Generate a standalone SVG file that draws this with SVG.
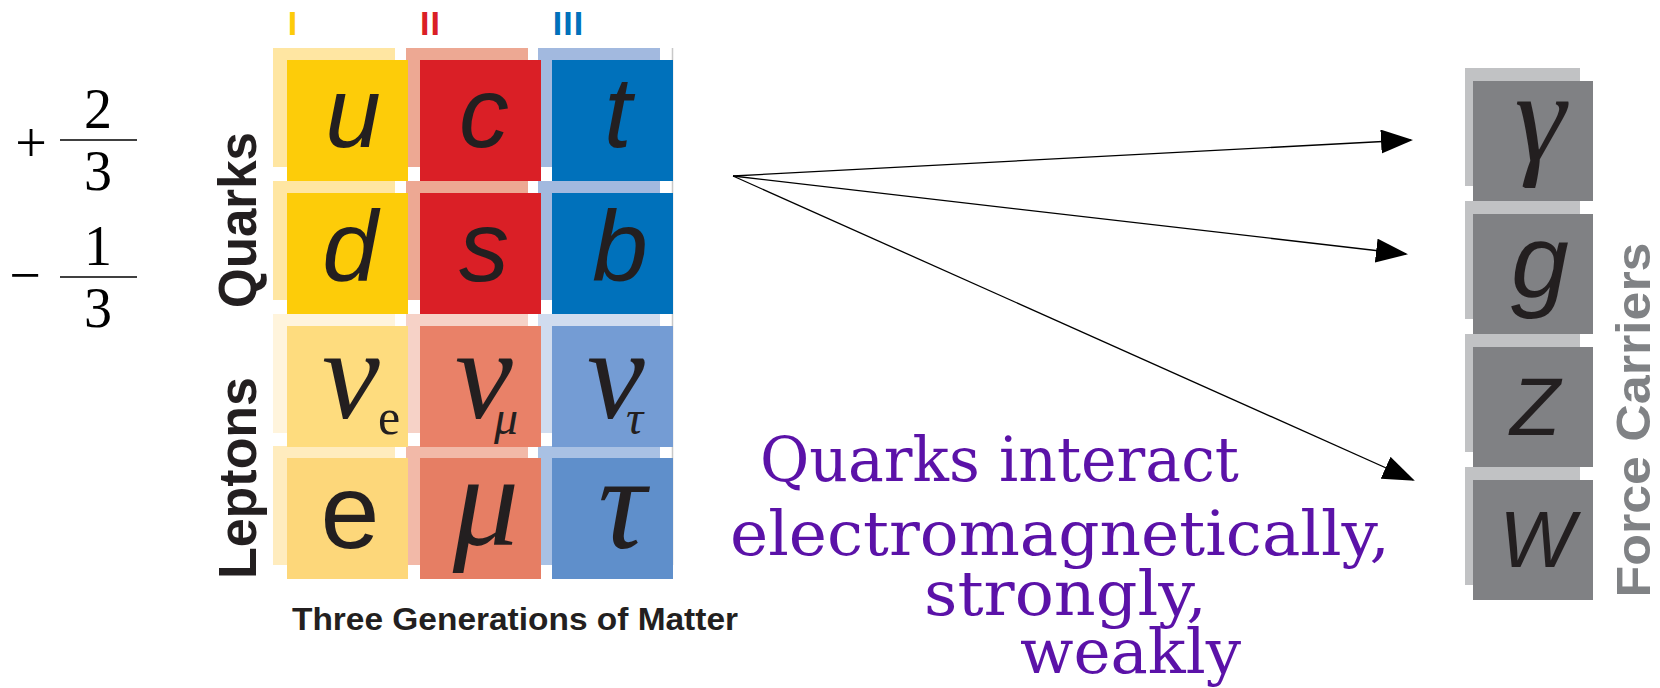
<svg xmlns="http://www.w3.org/2000/svg" width="1660" height="688" viewBox="0 0 1660 688">
<defs>
<style>
.sans{font-family:"Liberation Sans",Arial,sans-serif}
.serif{font-family:"Liberation Serif","Times New Roman",serif}
.lbl{font-family:"Liberation Sans",Arial,sans-serif;font-weight:bold;fill:#231F20}
.sym{font-family:"Liberation Sans",Arial,sans-serif;font-style:italic;fill:#231F20;text-anchor:middle}
.gk{font-family:"Liberation Serif","Times New Roman",serif;font-style:italic;fill:#231F20}
.frac{font-family:"Liberation Serif","Times New Roman",serif;font-size:56px;fill:#000;text-anchor:middle}
.note{font-family:"DejaVu Serif",serif;font-size:62px;fill:#5B12A8}
.conn{stroke:#000;stroke-width:1.3;fill:none;marker-end:url(#ah)}
</style>
<marker id="ah" markerWidth="32" markerHeight="24" refX="30" refY="12" orient="auto" markerUnits="userSpaceOnUse">
<path d="M0,0 L32,12 L0,24 Z" fill="#000"/>
</marker>
</defs>
<rect width="1660" height="688" fill="#fff"/>

<g id="charges">
<text class="frac" x="31" y="162" font-size="66">+</text>
<text class="frac" x="98" y="128">2</text>
<line x1="60" y1="140" x2="137" y2="140" stroke="#000" stroke-width="1.3"/>
<text class="frac" x="98" y="190">3</text>
<text class="frac" x="25" y="294" font-size="66">−</text>
<text class="frac" x="98" y="265">1</text>
<line x1="60" y1="277" x2="137" y2="277" stroke="#000" stroke-width="1.3"/>
<text class="frac" x="98" y="327">3</text>
</g>

<g id="generations">
<text class="lbl" x="292.5" y="35" font-size="34" text-anchor="middle" style="fill:#FDCB0A">I</text>
<text class="lbl" x="430.5" y="35" font-size="34" text-anchor="middle" letter-spacing="1" style="fill:#DA1F26">II</text>
<text class="lbl" x="568.5" y="35" font-size="34" text-anchor="middle" letter-spacing="1" style="fill:#0071BB">III</text>
</g>

<g id="side-labels">
<text class="lbl" transform="translate(256,220) rotate(-90)" font-size="53" text-anchor="middle" textLength="176" lengthAdjust="spacingAndGlyphs">Quarks</text>
<text class="lbl" transform="translate(256,478) rotate(-90)" font-size="53" text-anchor="middle" textLength="202" lengthAdjust="spacingAndGlyphs">Leptons</text>
<text class="lbl" x="292" y="630" font-size="31" textLength="446" lengthAdjust="spacingAndGlyphs">Three Generations of Matter</text>
</g>

<g id="backgrounds">
<rect x="273" y="48" width="122" height="119" fill="#FFE6A2"/>
<rect x="406" y="48" width="122" height="119" fill="#EDA893"/>
<rect x="538" y="48" width="122" height="119" fill="#A2B9DF"/>
<rect x="273" y="181" width="122" height="119" fill="#FFE6A2"/>
<rect x="406" y="181" width="122" height="119" fill="#EDA893"/>
<rect x="538" y="181" width="122" height="119" fill="#A2B9DF"/>
<rect x="273" y="314" width="122" height="119" fill="#FFF4DC"/>
<rect x="406" y="314" width="122" height="119" fill="#F6D2C7"/>
<rect x="538" y="314" width="122" height="119" fill="#D0DCEF"/>
<rect x="273" y="446" width="122" height="119" fill="#FFECBE"/>
<rect x="406" y="446" width="122" height="119" fill="#F2B9A8"/>
<rect x="538" y="446" width="122" height="119" fill="#A9C1E4"/>
<line x1="672.5" y1="48" x2="672.5" y2="565" stroke="#C8C8C8" stroke-width="1.5"/>
</g>

<g id="cell-u"><rect x="287" y="60" width="121" height="121" fill="#FDCC09"/><text class="sym" x="353" y="147" font-size="100">u</text></g>
<g id="cell-c"><rect x="420" y="60" width="121" height="121" fill="#DA1F26"/><text class="sym" x="484" y="147" font-size="100">c</text></g>
<g id="cell-t"><rect x="552" y="60" width="121" height="121" fill="#0071BB"/><text class="sym" x="618" y="147" font-size="100">t</text></g>
<g id="cell-d"><rect x="287" y="193" width="121" height="121" fill="#FDCC09"/><text class="sym" x="350" y="281" font-size="100">d</text></g>
<g id="cell-s"><rect x="420" y="193" width="121" height="121" fill="#DA1F26"/><text class="sym" x="484" y="281" font-size="100">s</text></g>
<g id="cell-b"><rect x="552" y="193" width="121" height="121" fill="#0071BB"/><text class="sym" x="620" y="281" font-size="100">b</text></g>
<g id="cell-nue"><rect x="287" y="326" width="121" height="121" fill="#FEDC7E"/><text class="gk" x="322" y="418" font-size="130">ν</text><text class="serif" x="378" y="434" font-size="50" fill="#231F20">e</text></g>
<g id="cell-numu"><rect x="420" y="326" width="121" height="121" fill="#E98168"/><text class="gk" x="455" y="418" font-size="130">ν</text><text class="gk" x="494" y="434" font-size="48">μ</text></g>
<g id="cell-nutau"><rect x="552" y="326" width="121" height="121" fill="#749CD4"/><text class="gk" x="587" y="418" font-size="130">ν</text><text class="gk" x="626" y="434" font-size="48">τ</text></g>
<g id="cell-e"><rect x="287" y="458" width="121" height="121" fill="#FDD77A"/><text class="sans" x="350" y="548" font-size="106" text-anchor="middle" fill="#231F20">e</text></g>
<g id="cell-mu"><rect x="420" y="458" width="121" height="121" fill="#E67E64"/><text class="gk" x="486" y="545" font-size="132" text-anchor="middle">μ</text></g>
<g id="cell-tau"><rect x="552" y="458" width="121" height="121" fill="#5F8FCB"/><text class="gk" x="622" y="548" font-size="134" text-anchor="middle">τ</text></g>

<g id="force-bg">
<rect x="1465" y="68" width="115" height="118" fill="#C1C2C4"/>
<rect x="1465" y="201" width="115" height="118" fill="#C1C2C4"/>
<rect x="1465" y="334" width="115" height="118" fill="#C1C2C4"/>
<rect x="1465" y="467" width="115" height="118" fill="#C1C2C4"/>
</g>
<g id="cell-gamma"><rect x="1473" y="81" width="120" height="120" fill="#808184"/><text class="gk" x="1540" y="160" font-size="130" text-anchor="middle">γ</text></g>
<g id="cell-g"><rect x="1473" y="214" width="120" height="120" fill="#808184"/><text class="sym" x="1540" y="297" font-size="104">g</text></g>
<g id="cell-z"><rect x="1473" y="347" width="120" height="120" fill="#808184"/><text class="sym" x="1535" y="435" font-size="82">Z</text></g>
<g id="cell-w"><rect x="1473" y="480" width="120" height="120" fill="#808184"/><text class="sym" x="1537" y="567" font-size="80">W</text></g>
<g id="force-label">
<text class="lbl" transform="translate(1650,420) rotate(-90)" font-size="48" text-anchor="middle" textLength="355" lengthAdjust="spacingAndGlyphs" style="fill:#808285">Force Carriers</text>
</g>

<g id="connectors">
<line class="conn" x1="733" y1="176" x2="1411" y2="140"/>
<line class="conn" x1="733" y1="176" x2="1406" y2="254"/>
<line class="conn" x1="733" y1="176" x2="1413" y2="480"/>
</g>

<g id="note">
<text class="note" x="760" y="481" textLength="479" lengthAdjust="spacingAndGlyphs">Quarks interact</text>
<text class="note" x="730" y="555" textLength="660" lengthAdjust="spacingAndGlyphs">electromagnetically,</text>
<text class="note" x="924" y="615" textLength="283" lengthAdjust="spacingAndGlyphs">strongly,</text>
<text class="note" x="1020" y="673" textLength="221" lengthAdjust="spacingAndGlyphs">weakly</text>
</g>
</svg>
